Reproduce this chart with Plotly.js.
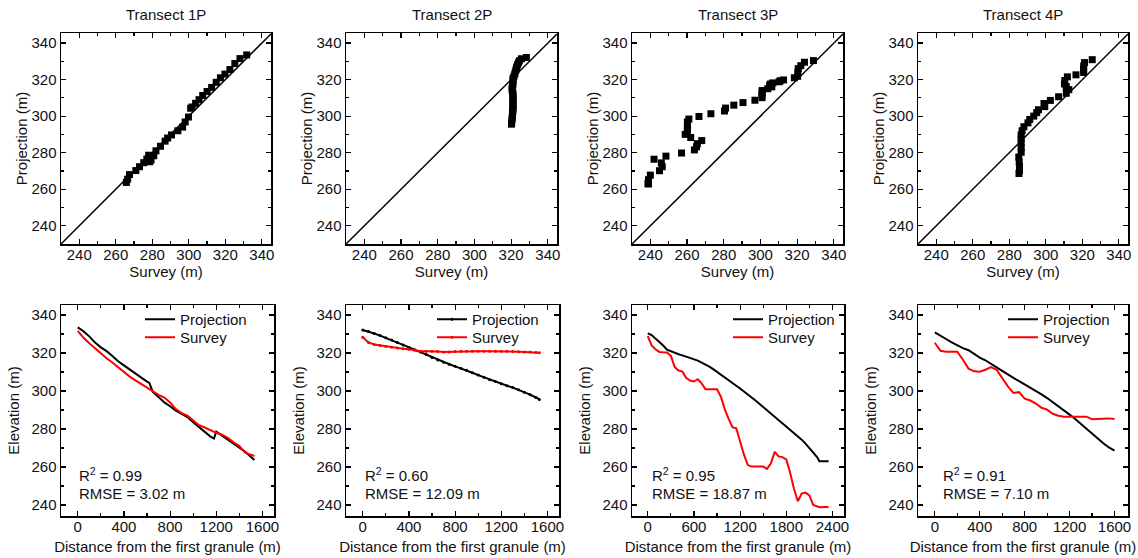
<!DOCTYPE html>
<html>
<head>
<meta charset="utf-8">
<script src="https://cdn.plot.ly/plotly-3.0.1.min.js"></script>
<style>
html,body{margin:0;padding:0;background:#fff;}
#chart{width:1138px;height:558px;}
</style>
</head>
<body>
<div id="chart"></div>
<script>
// ---------------- DATA ----------------
const panelTitles = ['Transect 1P', 'Transect 2P', 'Transect 3P', 'Transect 4P'];
const seriesNames = ['Projection', 'Survey'];
const r2Labels = ['0.99', '0.60', '0.95', '0.91'];
const rmseLabels = ['3.02', '12.09', '18.87', '7.10'];
const oneToOne = [230, 345];

// Transect 1P
const dist1 = [0,50,100,150,200,250,300,350,400,450,500,550,600,620,650,700,750,800,850,900,950,1000,1050,1100,1150,1180,1200,1250,1300,1350,1400,1450,1500,1530];
const proj1 = [333.5,331.5,328.8,325.5,323,321,318.5,315.7,313.5,311.3,309,307,305,304.3,299.5,296.8,294,292,289.7,288,286.3,283.5,281,278.3,276,275,278.6,276.5,274.5,272.3,270.2,268,265.5,263.7];
const surv1 = [331.7,328,325.2,322.5,319.8,317.3,315,312.5,310,307.6,305.6,303.7,301.8,301,299.8,298,296.6,294,290.5,288.4,287,284.5,282,280.8,279.3,278.6,278,277,275.3,273,271,267.5,266.5,265.8];

// Transect 2P
const dist2 = [0,50,100,150,200,250,300,350,400,450,500,550,600,650,700,750,800,850,900,950,1000,1050,1100,1150,1200,1250,1300,1350,1400,1450,1500,1530];
const proj2 = [332.1,331.4,330.3,329.2,328.1,326.9,325.5,324.3,323,321.8,320.5,319.2,317.7,316.3,315.2,314.1,313,312,311,309.6,308.4,307.2,306,305,303.8,302.8,301.8,300.7,299.3,298.1,296.6,295.6];
const surv2 = [328.3,325.6,324.5,324,323.5,323,322.7,322.3,322,321.5,321,321,321,320.8,320.5,320.6,320.8,321,321,321,321,321,321,321,321,320.9,320.8,320.7,320.6,320.5,320.3,320.2];

// Transect 3P
const dist3 = [0,50,100,150,200,250,300,350,400,450,500,550,600,650,700,750,800,850,900,950,1000,1050,1100,1150,1200,1250,1300,1350,1400,1450,1500,1550,1600,1650,1700,1750,1800,1850,1900,1950,2000,2050,2100,2150,2200,2230,2300,2350];
const proj3 = [330.4,329.5,327.6,326,324,321.8,321,319.8,319.4,318.8,318.2,317.6,316.9,316,315,314,312.8,311.5,310.1,308.7,307.4,306,304.4,302.8,301.3,299.8,298.4,296.8,295,293.3,291.6,290,288.3,286.6,284.9,283.2,281.5,279.8,278.1,276.4,274.4,272.3,270.1,267.7,265.2,263,263,263];
const surv3 = [328.9,324,322,320.6,320.4,320.3,318.5,312.6,310.8,310.2,306.8,305.5,305,306.2,304,300.9,300.9,300.9,300.9,297,290.5,285.5,281,280.4,273,266.5,261,260.2,260.2,260.2,260.2,259,262,268,265.6,265.2,264,257,248.5,242,246,246.5,245,240,239,238.8,238.9,238.9];

// Transect 4P
const dist4 = [0,50,100,150,200,250,300,350,400,450,500,550,600,650,700,750,800,850,900,950,1000,1050,1100,1150,1200,1250,1300,1350,1400,1450,1500,1550,1600];
const proj4 = [330.9,329.3,327.4,325.6,323.9,322.6,321.5,319.5,317.6,316.2,314.5,312.5,310.6,308.6,306.9,305.2,303.5,301.9,300,298.2,296.3,294.2,292,289.8,287.6,285.3,282.7,280.2,277.6,274.9,272.5,270.3,268.6];
const surv4 = [325.4,321.2,320.7,320.7,320.7,316.5,311.8,310.4,310.2,311.2,312.6,311.2,307,302.5,299,299.4,296,295,293.4,291.2,290.2,288,287,286.5,286.5,286.5,286.5,286.5,285.2,285.4,285.6,285.6,285.3];

const dists = [dist1, dist2, dist3, dist4];
const projs = [proj1, proj2, proj3, proj4];
const survs = [surv1, surv2, surv3, surv4];

// ---------------- LAYOUT ----------------
const W = 1138, H = 558;
const FONT = '"Liberation Sans", Arial, sans-serif';
const topX = [[61,271],[346,557],[632,843],[918,1128]];
const botX = [[61,274],[346,559],[632,844],[918,1128]];
const topY = [33,244];
const botY = [305,516];
const botXRange = [[-145,1700],[-145,1700],[-205,2550],[-150,1720]];
const botDtick = [400,400,600,400];
const legendLeft = [140, 432, 728, 1003];
const legendTop = [303, 321];
const annLeft = [77, 363, 650, 941];

const px2fx = p => p / W;
const px2fy = p => 1 - p / H;

function axisBase(extra) {
  return Object.assign({
    showline: true, linecolor: '#000', linewidth: 1.5, mirror: 'allticks',
    ticks: 'inside', ticklen: 5, tickwidth: 1.2, tickcolor: '#000',
    showgrid: false, zeroline: false, fixedrange: true,
    tickfont: {family: FONT, size: 15, color: '#111'},
  }, extra);
}

const layout = {
  width: W, height: H,
  margin: {l: 0, r: 0, t: 0, b: 0},
  paper_bgcolor: '#fff', plot_bgcolor: '#fff',
  font: {family: FONT, size: 15, color: '#111'},
  annotations: [],
  showlegend: true,
};

const data = [];
for (let i = 0; i < 4; i++) {
  const ti = i + 1;      // top subplot index
  const bi = i + 5;      // bottom subplot index
  const tx = 'x' + (ti === 1 ? '' : ti), ty = 'y' + (ti === 1 ? '' : ti);
  const bx = 'x' + bi, by = 'y' + bi;
  const txKey = 'xaxis' + (ti === 1 ? '' : ti), tyKey = 'yaxis' + (ti === 1 ? '' : ti);
  const bxKey = 'xaxis' + bi, byKey = 'yaxis' + bi;

  layout[txKey] = axisBase({
    domain: [px2fx(topX[i][0]), px2fx(topX[i][1])], anchor: ty,
    range: [230, 345], tick0: 240, dtick: 20, ticklabelstandoff: -4,
    minor: {ticks: 'inside', dtick: 10, ticklen: 3, tickcolor: '#000', showgrid: false},
    title: {text: 'Survey (m)', font: {family: FONT, size: 15, color: '#111'}, standoff: 4},
  });
  layout[tyKey] = axisBase({
    domain: [px2fy(topY[1]), px2fy(topY[0])], anchor: tx,
    range: [230, 345.5], tick0: 240, dtick: 20,
    minor: {ticks: 'inside', dtick: 10, ticklen: 3, tickcolor: '#000', showgrid: false},
    title: {text: 'Projection (m)', font: {family: FONT, size: 15, color: '#111'}, standoff: 0},
  });
  layout[bxKey] = axisBase({
    domain: [px2fx(botX[i][0]), px2fx(botX[i][1])], anchor: by,
    range: botXRange[i], tick0: 0, dtick: botDtick[i], ticklabelstandoff: -4,
    minor: {ticks: 'inside', dtick: botDtick[i] / 2, ticklen: 3, tickcolor: '#000', showgrid: false},
    title: {text: 'Distance from the first granule (m)', font: {family: FONT, size: 15, color: '#111'}, standoff: 8},
  });
  layout[byKey] = axisBase({
    domain: [px2fy(botY[1]), px2fy(botY[0])], anchor: bx,
    range: [234.2, 345.3], tick0: 240, dtick: 20,
    minor: {ticks: 'inside', dtick: 10, ticklen: 3, tickcolor: '#000', showgrid: false},
    title: {text: 'Elevation (m)', font: {family: FONT, size: 15, color: '#111'}, standoff: 8},
  });

  // 1:1 line
  data.push({x: oneToOne, y: oneToOne, xaxis: tx, yaxis: ty, mode: 'lines',
    line: {color: '#000', width: 1.5}, showlegend: false, hoverinfo: 'skip'});
  // scatter survey vs projection
  data.push({x: survs[i], y: projs[i], xaxis: tx, yaxis: ty, mode: 'markers',
    marker: {symbol: 'square', size: 7, color: '#000'}, showlegend: false});

  const withDots = i === 1;
  const series = [projs[i], survs[i]];
  const colors = ['#000000', '#ff0000'];
  for (let s = 0; s < 2; s++) {
    const n = 2 * i + s + 1;
    const legName = n === 1 ? 'legend' : 'legend' + n;
    data.push({x: dists[i], y: series[s], xaxis: bx, yaxis: by, name: seriesNames[s],
      mode: withDots ? 'lines+markers' : 'lines',
      marker: {size: 3, color: colors[s]},
      line: {color: colors[s], width: 2}, legend: legName});
    layout[legName] = {
      x: px2fx(legendLeft[i]), y: px2fy(legendTop[s]), xref: 'paper', yref: 'paper',
      xanchor: 'left', yanchor: 'top', bgcolor: 'rgba(0,0,0,0)', borderwidth: 0,
      font: {family: FONT, size: 15, color: '#111'}, itemwidth: 30,
    };
  }

  // panel titles
  layout.annotations.push({
    text: panelTitles[i], xref: 'paper', yref: 'paper',
    x: px2fx((topX[i][0] + topX[i][1]) / 2), y: px2fy(14),
    xanchor: 'center', yanchor: 'middle', showarrow: false,
    font: {family: FONT, size: 15, color: '#111'},
  });
  // stats
  layout.annotations.push({
    text: 'R<sup>2</sup> = ' + r2Labels[i], xref: 'paper', yref: 'paper',
    x: px2fx(annLeft[i]), y: px2fy(474), xanchor: 'left', yanchor: 'middle',
    showarrow: false, font: {family: FONT, size: 15, color: '#111'},
  });
  layout.annotations.push({
    text: 'RMSE = ' + rmseLabels[i] + ' m', xref: 'paper', yref: 'paper',
    x: px2fx(annLeft[i]), y: px2fy(493), xanchor: 'left', yanchor: 'middle',
    showarrow: false, font: {family: FONT, size: 15, color: '#111'},
  });
}

Plotly.newPlot('chart', data, layout, {displayModeBar: false, staticPlot: true});
</script>
</body>
</html>
